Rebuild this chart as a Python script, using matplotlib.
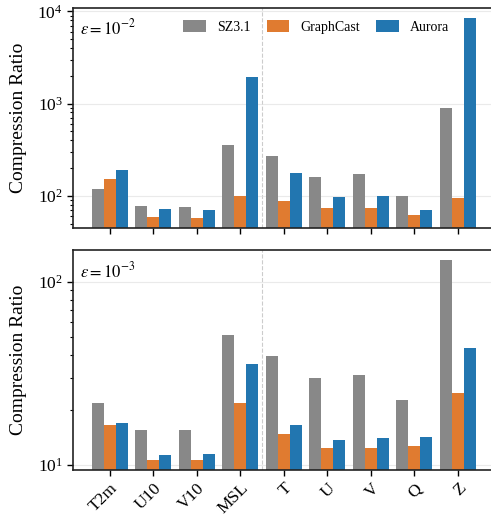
import numpy as np
import matplotlib
matplotlib.use('Agg')
import matplotlib.pyplot as plt

plt.rcParams['font.family'] = ['Liberation Serif', 'DejaVu Serif']
plt.rcParams['mathtext.fontset'] = 'stix'

variables = ['T2m', 'U10', 'V10', 'MSL', 'T', 'U', 'V', 'Q', 'Z']
methods = ['SZ3.1', 'GraphCast', 'Aurora']
colors = ['#888888', '#e07b30', '#2276b0']

# compression ratios at eps = 1e-2
sz3_e2 = [118, 77, 75, 355, 270, 160, 172, 99, 893]
graphcast_e2 = [152, 59, 57, 99, 88, 74, 74, 62, 94]
aurora_e2 = [190, 72, 70, 1935, 176, 97, 99, 70, 8450]

# compression ratios at eps = 1e-3
sz3_e3 = [21.8, 15.5, 15.5, 51.2, 39.3, 29.9, 31.0, 22.6, 131]
graphcast_e3 = [16.5, 10.6, 10.6, 21.8, 14.8, 12.4, 12.4, 12.7, 24.7]
aurora_e3 = [16.9, 11.3, 11.5, 35.5, 16.5, 13.7, 14.0, 14.2, 43.5]

panels = [
    (r'$\varepsilon = 10^{-2}$', [sz3_e2, graphcast_e2, aurora_e2], (44.7, 10870)),
    (r'$\varepsilon = 10^{-3}$', [sz3_e3, graphcast_e3, aurora_e3], (9.4, 149)),
]

fig = plt.figure(figsize=(4.91, 5.19), dpi=100)
ax_top = fig.add_axes([0.1487, 0.5607, 0.857, 0.4239])
ax_bot = fig.add_axes([0.1487, 0.0944, 0.857, 0.4239])

x = np.arange(len(variables))
width = 0.275

for ax, (label, series, ylim) in zip([ax_top, ax_bot], panels):
    for i, (name, vals, c) in enumerate(zip(methods, series, colors)):
        ax.bar(x + (i - 1) * width, vals, width, color=c, label=name, zorder=2)
    ax.set_yscale('log')
    ax.set_ylim(*ylim)
    ax.set_xlim(-0.84, 8.83)
    ax.axvline(3.5, color='#cccccc', linestyle='--', linewidth=0.8, zorder=1)
    ax.grid(True, axis='y', which='major', color='#dddddd', linewidth=0.8, alpha=0.6, zorder=3)
    ax.set_ylabel('Compression Ratio', fontsize=14)
    ax.text(0.017, 0.905, label, transform=ax.transAxes, fontsize=12, va='center', ha='left')
    ax.set_xticks(x)
    ax.tick_params(axis='both', which='major', labelsize=12.5, length=4, width=1)
    ax.tick_params(axis='y', which='minor', length=2.5, width=0.8)
    for s in ax.spines.values():
        s.set_linewidth(1.2)
        s.set_color('#222222')
    ax.yaxis.set_label_coords(-0.11, 0.5)

ax_top.set_xticklabels([])
ax_bot.set_xticklabels(variables, rotation=45, ha='right', rotation_mode='anchor')
ax_top.legend(loc='upper center', bbox_to_anchor=(0.578, 1.0), ncol=3, frameon=False,
              fontsize=10, handlelength=1.6, handleheight=0.9, columnspacing=1.2)

fig.savefig('out.png', dpi=100)
